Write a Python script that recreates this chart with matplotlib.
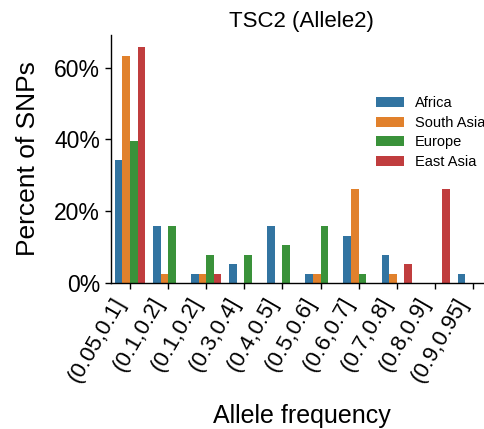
import matplotlib
matplotlib.use("Agg")
import matplotlib.pyplot as plt
import numpy as np
from matplotlib.ticker import PercentFormatter

plt.rcParams['font.family'] = ['Liberation Sans', 'DejaVu Sans']

categories = ["(0.05,0.1]", "(0.1,0.2]", "(0.1,0.2]", "(0.3,0.4]", "(0.4,0.5]",
              "(0.5,0.6]", "(0.6,0.7]", "(0.7,0.8]", "(0.8,0.9]", "(0.9,0.95]"]
series_names = ["Africa", "South Asia", "Europe", "East Asia"]
africa = [34.2, 15.8, 2.6, 5.3, 15.8, 2.6, 13.2, 7.9, 0.0, 2.6]
south_asia = [63.2, 2.6, 2.6, 0.0, 0.0, 2.6, 26.3, 2.6, 0.0, 0.0]
europe = [39.5, 15.8, 7.9, 7.9, 10.5, 15.8, 2.6, 0.0, 0.0, 0.0]
east_asia = [65.8, 0.0, 2.6, 0.0, 0.0, 0.0, 0.0, 5.3, 26.3, 0.0]
colors = ["#3274a1", "#e1812c", "#3a923a", "#c03d3e"]

fig = plt.figure(figsize=(4.84, 4.29), dpi=100)
ax = fig.add_axes([111/484, (429-283)/429, (492-111)/484, (283-35)/429])

x = np.arange(len(categories))
w = 0.8 / 4
for i, (name, vals) in enumerate(zip(series_names, [africa, south_asia, europe, east_asia])):
    ax.bar(x - 0.4 + w/2 + i*w, vals, width=w, color=colors[i], label=name, linewidth=0)

ax.set_xlim(-0.5, len(categories) - 0.5)
ax.set_xticks(x)
ax.set_xticklabels(categories, rotation=60, ha='right', fontsize=16)
ax.yaxis.set_major_formatter(PercentFormatter(decimals=0))
ax.set_yticks([0, 20, 40, 60])
ax.tick_params(axis='y', labelsize=16.5, length=4, width=1, direction='out', pad=4)
ax.tick_params(axis='x', length=4, width=1, direction='out', pad=4)
for s in ['top', 'right']:
    ax.spines[s].set_visible(False)
for s in ['left', 'bottom']:
    ax.spines[s].set_linewidth(1)
ax.set_ylabel("Percent of SNPs", fontsize=19, labelpad=10)
ax.set_xlabel("Allele frequency", fontsize=18, labelpad=13)
ax.set_title("TSC2 (Allele2)", fontsize=16, pad=6)
ax.legend(loc='upper left', bbox_to_anchor=(0.696, 0.753), frameon=False, fontsize=10.5,
          handlelength=1.9, handleheight=0.7, labelspacing=0.38, handletextpad=0.75,
          borderpad=0, borderaxespad=0)

fig.savefig("out.png", dpi=100)
